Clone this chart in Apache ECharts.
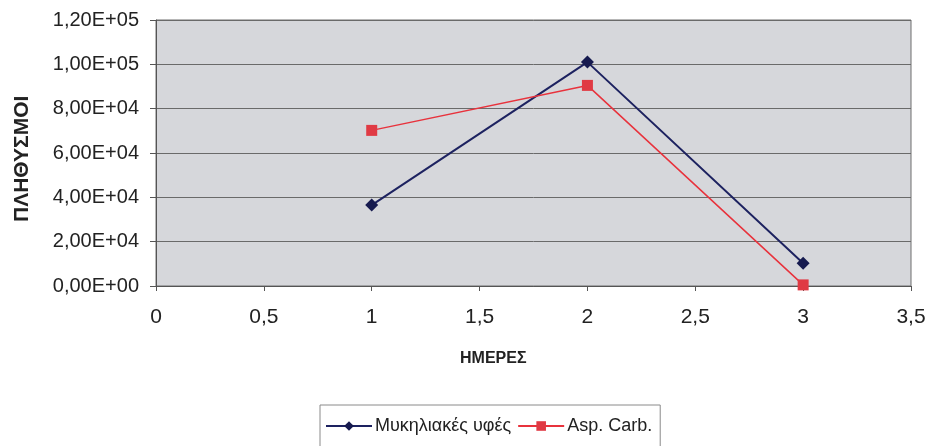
<!DOCTYPE html>
<html>
<head>
<meta charset="utf-8">
<script src="https://cdn.jsdelivr.net/npm/echarts@6/dist/echarts.min.js"></script>
<style>
  html, body { margin: 0; padding: 0; background: #fff; }
  #main { width: 933px; height: 446px; }
</style>
</head>
<body>
<div id="main"></div>
<script>
// ημέρες και πληθυσμοί
const days = [1, 2, 3];
const mycelium = [36500, 101000, 10300];   // Μυκηλιακές υφές
const aspCarb = [70200, 90500, 500];       // Asp. Carb.
const seriesNames = ['Μυκηλιακές υφές', 'Asp. Carb.'];

const font = 'Liberation Sans, Arial, sans-serif';

// 1,20E+05 style
function sciLabel(v) {
  if (v === 0) return '0,00E+00';
  let e = Math.floor(Math.log10(Math.abs(v)));
  let m = v / Math.pow(10, e);
  let s = m.toFixed(2).replace('.', ',');
  let es = (e < 0 ? '-' : '+') + String(Math.abs(e)).padStart(2, '0');
  return s + 'E' + es;
}

let chart = echarts.init(document.getElementById('main'), null, { renderer: 'canvas' });

let option = {
  backgroundColor: '#ffffff',
  animation: false,
  grid: {
    left: 156, right: 22, top: 20, bottom: 160,
    show: true,
    backgroundColor: '#d6d7db',
    borderColor: '#6e6e6e',
    borderWidth: 1
  },
  xAxis: {
    type: 'value',
    min: 0, max: 3.5, interval: 0.5,
    axisLine: { show: true, lineStyle: { color: '#555', width: 1 } },
    axisTick: { show: true, length: 5, lineStyle: { color: '#555' } },
    splitLine: { show: false },
    axisLabel: {
      color: '#222', fontFamily: font, fontSize: 21, margin: 21,
      formatter: v => String(v).replace('.', ',')
    }
  },
  yAxis: {
    type: 'value',
    min: 0, max: 120000, interval: 20000,
    axisLine: { show: true, lineStyle: { color: '#555', width: 1 } },
    axisTick: { show: true, length: 6, lineStyle: { color: '#555' } },
    splitLine: { show: true, lineStyle: { color: '#6a6a6a', width: 1 } },
    axisLabel: {
      color: '#222', fontFamily: font, fontSize: 20, margin: 17,
      formatter: sciLabel
    }
  },
  graphic: [
    {
      type: 'text', left: 460, top: 351,
      style: { text: 'ΗΜΕΡΕΣ', font: 'bold 16px ' + font, fill: '#222' }
    },
    {
      type: 'text', x: 12, y: 222, rotation: Math.PI / 2,
      style: { text: 'ΠΛΗΘΥΣΜΟΙ', font: 'bold 21px ' + font, fill: '#222' }
    }
  ],
  legend: {
    left: 320, top: 405,
    orient: 'horizontal',
    backgroundColor: '#ffffff',
    borderColor: '#8a8a8a',
    borderWidth: 1,
    borderRadius: 0,
    padding: [12, 8, 14, 5],
    itemGap: 6,
    itemWidth: 46, itemHeight: 12,
    textStyle: { fontFamily: font, fontSize: 18, color: '#222', padding: [0, 0, 0, -2] },
    data: seriesNames
  },
  series: [
    {
      name: seriesNames[0],
      type: 'line',
      data: days.map((d, i) => [d, mycelium[i]]),
      symbol: 'diamond', symbolSize: 13,
      itemStyle: { color: '#161a4f' },
      lineStyle: { color: '#1d2260', width: 2 }
    },
    {
      name: seriesNames[1],
      type: 'line',
      data: days.map((d, i) => [d, aspCarb[i]]),
      symbol: 'rect', symbolSize: 11,
      itemStyle: { color: '#e03a44' },
      lineStyle: { color: '#e8323c', width: 1.5 }
    }
  ]
};

chart.setOption(option);
</script>
</body>
</html>
